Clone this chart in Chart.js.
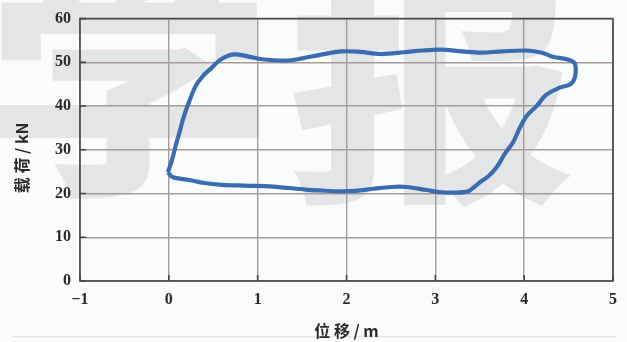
<!DOCTYPE html>
<html>
<head>
<meta charset="utf-8">
<script src="https://cdn.jsdelivr.net/npm/chart.js@4.4.1/dist/chart.umd.min.js"></script>
<style>
  html, body { margin: 0; padding: 0; background: #fafbfd; }
  #wrap { width: 627px; height: 342px; position: relative; }
</style>
</head>
<body>
<div id="wrap"><canvas id="c" width="627" height="342"></canvas></div>
<script>
// Hysteresis loop: displacement (m) vs. load (kN), traced in loading order
const dispX = [
  -0.01, 0.04, 0.08, 0.12, 0.16, 0.21, 0.30, 0.38, 0.47, 0.58, 0.73, 0.90, 1.05, 1.31,
  1.50, 1.70, 1.95, 2.15, 2.38, 2.65, 2.85, 3.06, 3.30, 3.51, 3.75, 4.03, 4.20, 4.33,
  4.48, 4.56, 4.58, 4.57, 4.52, 4.40, 4.25, 4.14, 4.03, 3.95, 3.88, 3.78, 3.69, 3.60,
  3.51, 3.42, 3.37, 3.22, 3.06, 2.90, 2.68, 2.50, 2.31, 2.10, 1.93, 1.70, 1.54, 1.17,
  0.85, 0.60, 0.40, 0.23, 0.04, -0.01
];
const loadY = [
  24.9, 28.0, 31.2, 34.0, 37.0, 40.0, 44.5, 46.8, 48.5, 50.6, 51.8, 51.3, 50.7, 50.4,
  50.9, 51.7, 52.5, 52.4, 51.9, 52.3, 52.7, 52.9, 52.5, 52.2, 52.5, 52.7, 52.2, 51.2,
  50.7, 50.0, 48.9, 46.5, 45.0, 44.2, 42.6, 40.0, 37.8, 35.0, 31.9, 29.0, 26.0, 24.0,
  22.7, 21.2, 20.5, 20.2, 20.3, 20.8, 21.5, 21.5, 21.1, 20.6, 20.5, 20.7, 20.9, 21.6,
  21.8, 22.0, 22.4, 23.1, 23.8, 24.9
];

const xTicks = [-1, 0, 1, 2, 3, 4, 5];
const yTicks = [0, 10, 20, 30, 40, 50, 60];
const xTitle = '位 移 / m';
// trailing blank nudges the rotated title down along the axis
const yTitle = '载 荷 / kN\u3000';
const watermark = ['学', '报'];

const points = dispX.map((x, i) => ({ x: x, y: loadY[i] }));

const tickFont = { family: '"Liberation Serif", "DejaVu Serif", serif', size: 16, weight: 'bold' };
const titleFont = { family: '"Noto Sans CJK SC", sans-serif', size: 16, weight: 'bold' };

// Large light-gray characters behind everything
const backdrop = {
  id: 'backdrop',
  beforeDraw(chart) {
    const ctx = chart.ctx;
    ctx.save();
    ctx.fillStyle = '#fafbfd';
    ctx.fillRect(0, 0, chart.width, chart.height);
    ctx.save();
    ctx.scale(1.1, 0.95);
    ctx.fillStyle = '#e4e5e7';
    ctx.font = '900 262px "Noto Sans CJK SC", sans-serif';
    ctx.textBaseline = 'alphabetic';
    ctx.fillText(watermark[0], -14, 186);
    ctx.fillText(watermark[1], 262, 192);
    ctx.restore();
    // faint rule under the figure
    ctx.strokeStyle = '#e3e5e8';
    ctx.lineWidth = 1.5;
    ctx.beginPath();
    ctx.moveTo(12, 336.5);
    ctx.lineTo(616, 336.5);
    ctx.stroke();
    ctx.restore();
  }
};

// Frame around the plot plus short inward tick marks
const frame = {
  id: 'frame',
  afterDatasetsDraw(chart) {
    const { ctx, chartArea: a, scales } = chart;
    ctx.save();
    ctx.strokeStyle = '#4a4646';
    ctx.lineWidth = 1.6;
    ctx.beginPath();
    xTicks.forEach(v => {
      const px = scales.x.getPixelForValue(v);
      ctx.moveTo(px, a.bottom);
      ctx.lineTo(px, a.bottom - 6);
    });
    yTicks.forEach(v => {
      const py = scales.y.getPixelForValue(v);
      ctx.moveTo(a.left, py);
      ctx.lineTo(a.left + 6, py);
    });
    ctx.stroke();
    ctx.strokeRect(a.left, a.top, a.right - a.left, a.bottom - a.top);
    ctx.restore();
  }
};

new Chart(document.getElementById('c'), {
  type: 'scatter',
  data: {
    datasets: [{
      data: points,
      showLine: true,
      borderColor: '#3b6cb0',
      borderWidth: 4.2,
      pointRadius: 0,
      tension: 0.35,
      fill: false
    }]
  },
  options: {
    responsive: false,
    animation: false,
    layout: { padding: { top: 10, right: 14, left: 0, bottom: 0 } },
    plugins: { legend: { display: false }, tooltip: { enabled: false } },
    scales: {
      x: {
        type: 'linear',
        min: -1, max: 5,
        afterBuildTicks(s) { s.ticks = xTicks.map(v => ({ value: v })); },
        afterFit(s) { s.height = 61; },
        grid: { color: '#a59c98', lineWidth: 1.4, drawTicks: false },
        border: { display: false },
        ticks: {
          font: tickFont, color: '#2a2a2a', padding: 9,
          callback: v => (v < 0 ? '\u2212' + Math.abs(v) : String(v))
        },
        title: { display: true, text: xTitle, font: titleFont, color: '#2a2a2a', padding: { top: 4, bottom: 1 } }
      },
      y: {
        type: 'linear',
        min: 0, max: 60,
        afterBuildTicks(s) { s.ticks = yTicks.map(v => ({ value: v })); },
        afterFit(s) { s.width = 80; },
        grid: { color: '#a59c98', lineWidth: 1.4, drawTicks: false },
        border: { display: false },
        ticks: { font: tickFont, color: '#2a2a2a', padding: 9 },
        title: { display: true, text: yTitle, font: titleFont, color: '#2a2a2a', padding: { top: 12, bottom: 0 } }
      }
    }
  },
  plugins: [backdrop, frame]
});
</script>
</body>
</html>
